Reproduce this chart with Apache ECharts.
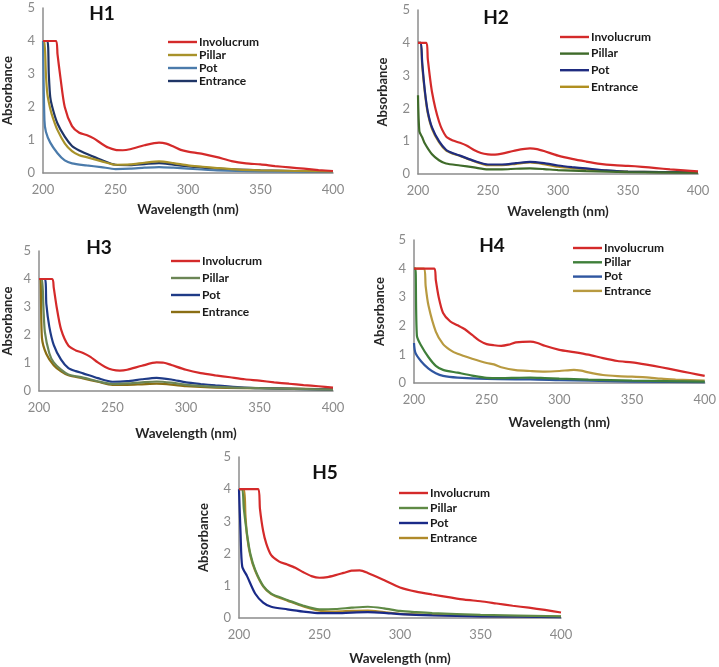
<!DOCTYPE html>
<html><head><meta charset="utf-8">
<script src="https://cdn.jsdelivr.net/npm/echarts@6/dist/echarts.min.js"></script>
<style>html,body{margin:0;padding:0;background:#fff}#c{width:719px;height:667px}</style>
</head><body><div id="c"></div>
<script>
const seriesNames = ['Involucrum','Pillar','Pot','Entrance'];
const panelTitles = ['H1','H2','H3','H4','H5'];
const xTicks = [200,250,300,350,400];
const yTicks = [0,1,2,3,4,5];

// H1
const H1_Involucrum = [[200,4],[209,4],[210,3.6],[212,2.9],[215,2.0],[220,1.42],[225,1.22],[230,1.15],[235,1.05],[240,0.9],[245,0.77],[250,0.7],[255,0.69],[260,0.72],[270,0.84],[280,0.92],[285,0.89],[290,0.8],[295,0.7],[300,0.65],[310,0.58],[320,0.48],[330,0.36],[340,0.29],[350,0.26],[360,0.21],[370,0.17],[380,0.13],[390,0.09],[400,0.06]];
const H1_Pillar = [[200,4],[201,4],[202,3.0],[203,2.4],[205,1.95],[207,1.65],[210,1.3],[215,0.9],[220,0.66],[225,0.54],[230,0.48],[240,0.36],[250,0.25],[260,0.26],[270,0.31],[280,0.35],[290,0.3],[300,0.23],[310,0.19],[320,0.15],[335,0.1],[350,0.08],[375,0.06],[400,0.05]];
const H1_Pot = [[200,4],[201,1.6],[202,1.25],[205,0.92],[210,0.6],[215,0.38],[220,0.29],[230,0.23],[240,0.18],[250,0.12],[260,0.13],[270,0.16],[280,0.18],[290,0.16],[300,0.13],[320,0.08],[350,0.05],[400,0.03]];
const H1_Entrance = [[200,4],[203,4],[204,3.0],[205,2.3],[207,1.9],[210,1.5],[215,1.1],[220,0.82],[225,0.68],[230,0.58],[240,0.4],[250,0.25],[260,0.24],[270,0.27],[280,0.3],[290,0.25],[300,0.2],[320,0.13],[350,0.08],[400,0.04]];
// H2
const H2_Involucrum = [[200,4],[206,4],[207,3.5],[210,2.5],[215,1.6],[220,1.15],[225,1.02],[230,0.95],[235,0.86],[240,0.73],[245,0.64],[250,0.6],[255,0.59],[260,0.62],[270,0.72],[280,0.78],[285,0.76],[290,0.7],[300,0.56],[310,0.46],[320,0.38],[330,0.31],[340,0.27],[350,0.25],[360,0.22],[370,0.18],[380,0.14],[390,0.11],[400,0.08]];
const H2_Pillar = [[200,2.4],[201,1.3],[203,1.12],[205,0.92],[210,0.6],[215,0.42],[220,0.32],[230,0.26],[240,0.2],[250,0.14],[260,0.14],[270,0.16],[280,0.17],[290,0.15],[300,0.12],[320,0.09],[350,0.06],[400,0.04]];
const H2_Pot = [[200,4],[202,4],[203,3.4],[205,2.5],[207,1.9],[210,1.42],[215,1.0],[220,0.74],[225,0.63],[230,0.56],[240,0.4],[250,0.29],[260,0.29],[270,0.33],[280,0.37],[290,0.33],[300,0.26],[310,0.21],[320,0.17],[335,0.11],[350,0.07],[400,0.05]];
const H2_Entrance = [[200,4],[202,4],[203,3.3],[205,2.45],[207,1.85],[210,1.38],[215,0.97],[220,0.72],[225,0.62],[230,0.55],[240,0.39],[250,0.27],[260,0.27],[270,0.31],[280,0.35],[290,0.3],[300,0.22],[310,0.18],[320,0.14],[335,0.1],[350,0.07],[400,0.05]];
// H3
const H3_Involucrum = [[200,4],[209,4],[210,3.7],[212,3.0],[215,2.2],[220,1.62],[225,1.45],[230,1.36],[235,1.22],[240,1.02],[245,0.86],[250,0.76],[255,0.73],[260,0.76],[270,0.9],[280,1.02],[285,1.01],[290,0.93],[300,0.76],[310,0.64],[320,0.56],[330,0.49],[340,0.42],[350,0.37],[360,0.31],[370,0.26],[380,0.21],[390,0.17],[400,0.12]];
const H3_Pillar = [[200,4],[202,4],[203,3.0],[204,2.1],[207,1.35],[210,1.02],[215,0.76],[220,0.59],[230,0.48],[240,0.35],[250,0.25],[260,0.27],[270,0.31],[280,0.34],[290,0.3],[300,0.22],[320,0.15],[350,0.1],[400,0.05]];
const H3_Pot = [[200,4],[204,4],[205,3.1],[207,2.3],[210,1.65],[215,1.12],[220,0.82],[225,0.71],[230,0.63],[240,0.46],[250,0.33],[260,0.35],[270,0.42],[280,0.47],[290,0.41],[300,0.31],[310,0.25],[320,0.2],[335,0.14],[350,0.1],[400,0.05]];
const H3_Entrance = [[200,4],[201,4],[202,1.9],[205,1.32],[210,0.92],[215,0.7],[220,0.56],[230,0.45],[240,0.33],[250,0.22],[260,0.22],[270,0.24],[280,0.26],[290,0.23],[300,0.17],[320,0.12],[350,0.1],[400,0.06]];
// H4
const H4_Involucrum = [[200,4],[214,4],[215,3.6],[217,3.0],[220,2.45],[225,2.15],[230,2.02],[235,1.88],[240,1.68],[245,1.48],[250,1.36],[255,1.32],[260,1.3],[265,1.34],[270,1.42],[280,1.45],[285,1.4],[290,1.3],[300,1.16],[310,1.08],[320,0.99],[330,0.87],[340,0.77],[350,0.72],[360,0.64],[370,0.55],[380,0.45],[390,0.35],[400,0.25]];
const H4_Pillar = [[200,4],[201,4],[202,1.65],[205,1.3],[210,0.9],[215,0.6],[220,0.46],[230,0.36],[240,0.26],[250,0.18],[260,0.17],[270,0.18],[280,0.19],[290,0.17],[300,0.15],[320,0.12],[350,0.08],[400,0.05]];
const H4_Pot = [[200,1.4],[201,1.05],[205,0.75],[210,0.5],[215,0.34],[220,0.25],[230,0.19],[250,0.14],[270,0.13],[280,0.13],[300,0.1],[320,0.08],[350,0.05],[400,0.03]];
const H4_Entrance = [[200,4],[207,4],[208,3.4],[210,2.7],[215,1.8],[220,1.36],[225,1.15],[230,1.02],[240,0.85],[250,0.7],[255,0.65],[260,0.55],[270,0.45],[280,0.42],[290,0.4],[300,0.42],[310,0.46],[315,0.43],[320,0.37],[330,0.28],[340,0.24],[350,0.22],[360,0.2],[370,0.15],[380,0.12],[390,0.1],[400,0.08]];
// H5
const H5_Involucrum = [[200,4],[212,4],[213,3.4],[215,2.7],[217,2.3],[220,1.95],[225,1.75],[230,1.66],[235,1.56],[240,1.42],[245,1.3],[250,1.25],[255,1.27],[260,1.33],[265,1.4],[270,1.47],[275,1.48],[280,1.4],[290,1.18],[300,0.95],[310,0.82],[320,0.73],[330,0.65],[340,0.57],[350,0.52],[360,0.45],[370,0.38],[380,0.32],[390,0.25],[400,0.17]];
const H5_Pillar = [[200,4],[202,4],[203,3.4],[205,2.6],[207,2.0],[210,1.5],[215,1.0],[220,0.76],[225,0.65],[230,0.56],[240,0.38],[250,0.27],[260,0.28],[270,0.32],[280,0.35],[290,0.3],[300,0.22],[310,0.18],[320,0.15],[350,0.1],[400,0.05]];
const H5_Pot = [[200,4],[201,2.6],[202,1.6],[205,1.3],[210,0.76],[215,0.48],[220,0.35],[230,0.27],[240,0.2],[250,0.15],[260,0.15],[270,0.17],[280,0.18],[290,0.16],[300,0.12],[320,0.08],[350,0.05],[400,0.03]];
const H5_Entrance = [[200,4],[203,4],[204,3.2],[205,2.55],[207,1.95],[210,1.47],[215,0.98],[220,0.74],[225,0.63],[230,0.54],[240,0.36],[250,0.23],[260,0.2],[270,0.22],[280,0.23],[290,0.18],[300,0.13],[320,0.1],[350,0.06],[400,0.04]];

const panelData = [
  [H1_Involucrum,H1_Pillar,H1_Pot,H1_Entrance],
  [H2_Involucrum,H2_Pillar,H2_Pot,H2_Entrance],
  [H3_Involucrum,H3_Pillar,H3_Pot,H3_Entrance],
  [H4_Involucrum,H4_Pillar,H4_Pot,H4_Entrance],
  [H5_Involucrum,H5_Pillar,H5_Pot,H5_Entrance]
];

// layout & style (not data)
const colors = [
  ['#d42a2a','#a8922a','#4b7bab','#1f3566'],
  ['#d42a2a','#3f6b2a','#1f2c80','#b08f20'],
  ['#d42a2a','#6b8555','#1f3b87','#8a6e14'],
  ['#d42a2a','#3f7f3a','#2f56a0','#b89a40'],
  ['#d42a2a','#5f8a45','#1a2a88','#b08a2a']
];
const grids = [
  {left:37, top:8, width:296, height:165},
  {left:418, top:10, width:280, height:164},
  {left:33, top:251, width:300, height:140},
  {left:414, top:240, width:294, height:143},
  {left:239, top:457, width:322, height:166}
];
const xNameGap = [30,31,36,33,34];
const yNameGap = [29,29,25,28,29];
const legendPos = [
  {left:168, top:36, gap:1},
  {left:560, top:31, gap:4.6},
  {left:171, top:255, gap:5},
  {left:573, top:242, gap:2.3},
  {left:399, top:487, gap:3}
];
const titlePos = [[102,14],[496,18],[99,248],[492,246],[325,473]];

const FONT = 'Lato';
const option = {
  backgroundColor:'#fff',
  animation:false,
  grid: grids.map(g=>Object.assign({containLabel:false}, g)),
  xAxis: grids.map((g,i)=>({
    type:'value', gridIndex:i, min:200, max:400, interval:50,
    name:'Wavelength (nm)', nameLocation:'middle', nameGap:xNameGap[i],
    nameTextStyle:{fontFamily:FONT, fontWeight:'bold', fontSize:13.5, color:'#262626'},
    axisLine:{show:true, lineStyle:{color:'#8c8c8c', width:1.5}},
    axisTick:{show:false}, splitLine:{show:false},
    axisLabel:{fontFamily:FONT, fontSize:13, color:'#8a8a8a', margin:10,
      formatter:v=>xTicks.includes(v)?String(v):''}
  })),
  yAxis: grids.map((g,i)=>({
    type:'value', gridIndex:i, min:0, max:5, interval:1,
    name:'Absorbance', nameLocation:'middle', nameGap:yNameGap[i], nameRotate:90,
    nameTextStyle:{fontFamily:FONT, fontWeight:'bold', fontSize:13, color:'#262626'},
    axisLine:{show:true, lineStyle:{color:'#8c8c8c', width:1.5}},
    axisTick:{show:false}, splitLine:{show:false},
    axisLabel:{fontFamily:FONT, fontSize:13, color:'#8a8a8a', margin:8,
      formatter:v=>yTicks.includes(v)?String(v):''}
  })),
  title: panelTitles.map((t,i)=>({
    text:t, left:titlePos[i][0], top:titlePos[i][1], textAlign:'center', textVerticalAlign:'middle',
    textStyle:{fontFamily:FONT, fontWeight:'bold', fontSize:19, color:'#111'}, padding:0
  })),
  legend: legendPos.map((p,i)=>({
    orient:'vertical', left:p.left, top:p.top, itemGap:p.gap, itemWidth:29, itemHeight:2.4,
    padding:0, selectedMode:false,
    textStyle:{fontFamily:FONT, fontWeight:'bold', fontSize:12, color:'#1a1a1a', lineHeight:12, padding:[0,0,0,-3]},
    data: seriesNames.map((n,k)=>({name:n, icon:'path://M0,0L29,0L29,2.4L0,2.4Z',
      itemStyle:{color:colors[i][k], borderWidth:0}, lineStyle:{color:colors[i][k]}}))
  })),
  series: []
};
panelData.forEach((arr,i)=>{
  arr.forEach((d,k)=>{
    option.series.push({
      type:'line', name:seriesNames[k], xAxisIndex:i, yAxisIndex:i,
      data:d, symbol:'none', smooth:0.25, clip:true,
      lineStyle:{color:colors[i][k], width:2.2}, itemStyle:{color:colors[i][k]},
      z: 10-k
    });
  });
});
const chart = echarts.init(document.getElementById('c'), null, {renderer:'canvas'});
chart.setOption(option);
</script></body></html>
